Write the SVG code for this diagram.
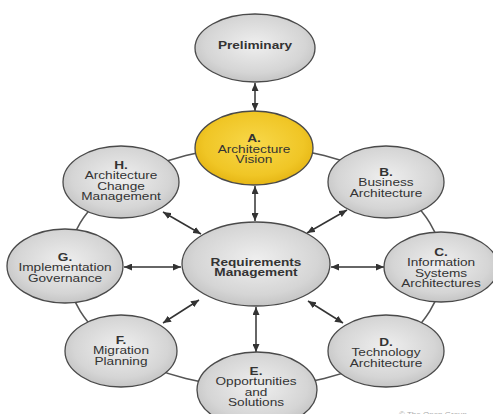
<svg xmlns="http://www.w3.org/2000/svg" width="493" height="414" viewBox="0 0 493 414">
<style>
.node{fill:url(#gray);stroke:#4a4a4a;stroke-width:1.3}
.yel{fill:url(#yellow);stroke:#4a4a4a;stroke-width:1.3}
.t{font-family:"Liberation Sans",Arial,sans-serif;font-size:10.5px;fill:#333;text-anchor:middle}
.b{font-weight:bold}
.conn{stroke:#333;stroke-width:1.5;fill:none;marker-start:url(#ah);marker-end:url(#ah)}
.ring{fill:none;stroke:#555;stroke-width:1.6}
</style>
<defs>
<radialGradient id="gray" cx="50%" cy="45%" r="60%">
<stop offset="0" stop-color="#efefef"/>
<stop offset="0.7" stop-color="#d5d5d5"/>
<stop offset="1" stop-color="#bfbfbf"/>
</radialGradient>
<radialGradient id="yellow" cx="50%" cy="45%" r="60%">
<stop offset="0" stop-color="#f8d84a"/>
<stop offset="0.7" stop-color="#f0c626"/>
<stop offset="1" stop-color="#e2b00e"/>
</radialGradient>
<marker id="ah" viewBox="0 0 8 7" refX="8" refY="3.5" markerWidth="8" markerHeight="7" markerUnits="userSpaceOnUse" orient="auto-start-reverse">
<path d="M0,0 L8,3.5 L0,7 z" fill="#333"/>
</marker>
</defs>
<rect width="493" height="414" fill="#fff"/>
<ellipse class="ring" cx="255" cy="267" rx="188" ry="120"/>
<g id="connectors">
<line class="conn" x1="255" y1="83" x2="255" y2="111"/>
<line class="conn" x1="255" y1="186" x2="255" y2="221"/>
<line class="conn" x1="163" y1="212" x2="201" y2="234"/>
<line class="conn" x1="347" y1="210" x2="307" y2="233"/>
<line class="conn" x1="124" y1="267" x2="181" y2="267"/>
<line class="conn" x1="384" y1="267" x2="331" y2="267"/>
<line class="conn" x1="163" y1="323" x2="199" y2="300"/>
<line class="conn" x1="343" y1="323" x2="308" y2="301"/>
<line class="conn" x1="256" y1="307" x2="256" y2="352"/>
</g>
<g id="preliminary">
<ellipse class="node" cx="255" cy="48" rx="60" ry="34"/>
<g transform="translate(255,0) scale(1.3,1)"><text class="t b" x="0" y="49">Preliminary</text></g>
</g>
<g id="a">
<ellipse class="yel" cx="254" cy="148" rx="59" ry="37"/>
<g transform="translate(254,0) scale(1.3,1)"><text class="t b" x="0" y="142">A.</text><text class="t" x="0" y="153">Architecture</text><text class="t" x="0" y="163.5">Vision</text></g>
</g>
<g id="h">
<ellipse class="node" cx="121" cy="182" rx="58" ry="36"/>
<g transform="translate(121,0) scale(1.3,1)"><text class="t b" x="0" y="169">H.</text><text class="t" x="0" y="179.5">Architecture</text><text class="t" x="0" y="190">Change</text><text class="t" x="0" y="200.5">Management</text></g>
</g>
<g id="b">
<ellipse class="node" cx="386" cy="182" rx="58" ry="36"/>
<g transform="translate(386,0) scale(1.3,1)"><text class="t b" x="0" y="176">B.</text><text class="t" x="0" y="186.5">Business</text><text class="t" x="0" y="197">Architecture</text></g>
</g>
<g id="rm">
<ellipse class="node" cx="256" cy="264" rx="74" ry="42"/>
<g transform="translate(256,0) scale(1.3,1)"><text class="t b" x="0" y="266">Requirements</text><text class="t b" x="0" y="276.5">Management</text></g>
</g>
<g id="g">
<ellipse class="node" cx="65" cy="266" rx="58" ry="37"/>
<g transform="translate(65,0) scale(1.3,1)"><text class="t b" x="0" y="261">G.</text><text class="t" x="0" y="271.5">Implementation</text><text class="t" x="0" y="282">Governance</text></g>
</g>
<g id="c">
<ellipse class="node" cx="441" cy="267" rx="57" ry="35"/>
<g transform="translate(441,0) scale(1.3,1)"><text class="t b" x="0" y="256">C.</text><text class="t" x="0" y="266.5">Information</text><text class="t" x="0" y="277">Systems</text><text class="t" x="0" y="287.5">Architectures</text></g>
</g>
<g id="f">
<ellipse class="node" cx="121" cy="351" rx="56" ry="36"/>
<g transform="translate(121,0) scale(1.3,1)"><text class="t b" x="0" y="344">F.</text><text class="t" x="0" y="354.5">Migration</text><text class="t" x="0" y="365">Planning</text></g>
</g>
<g id="d">
<ellipse class="node" cx="386" cy="351" rx="58" ry="36"/>
<g transform="translate(386,0) scale(1.3,1)"><text class="t b" x="0" y="346">D.</text><text class="t" x="0" y="356.5">Technology</text><text class="t" x="0" y="367">Architecture</text></g>
</g>
<g id="e">
<ellipse class="node" cx="257" cy="390" rx="60" ry="38"/>
<g transform="translate(256,0) scale(1.3,1)"><text class="t b" x="0" y="375">E.</text><text class="t" x="0" y="385.5">Opportunities</text><text class="t" x="0" y="396">and</text><text class="t" x="0" y="406.5">Solutions</text></g>
</g>
<text x="433" y="417" font-family="Liberation Sans, Arial, sans-serif" font-size="8" fill="#aaa" text-anchor="middle">© The Open Group</text>
</svg>
